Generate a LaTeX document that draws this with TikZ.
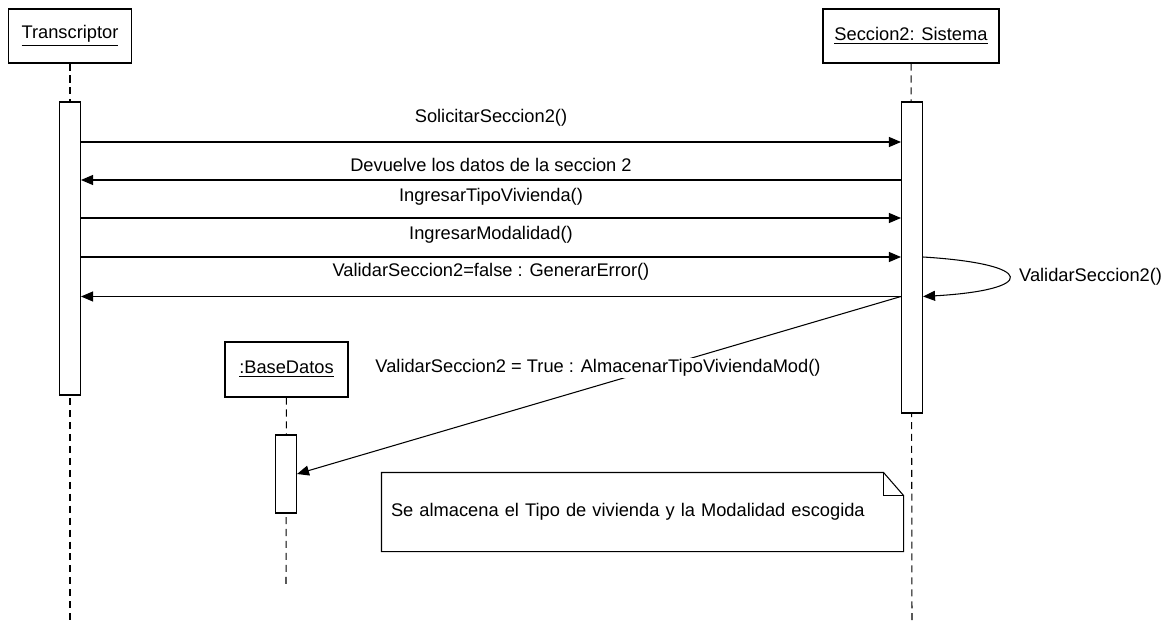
\documentclass[tikz,border=0pt]{standalone}
\usepackage{fontspec}
\setmainfont{Liberation Sans}
\usepackage{tikz}
\usetikzlibrary{positioning, calc}
\usetikzlibrary{arrows.meta}

\begin{document}
\begin{tikzpicture}[>={Triangle[length=2.4mm,width=2mm]},line width=0.6pt,draw=black!100,
	font=\fontsize{10.4}{12}\selectfont]
	\useasboundingbox (0,0) rectangle (23.28,-12.5);
	\def \objht{-0.72cm}
	\tikzstyle{obj-node}=[rectangle,draw=black!100,inner sep=0pt,minimum height=1.08cm]
	\tikzstyle{act-node}=[rectangle,draw=black!100,fill=white,inner sep=0pt,minimum width=0.42cm]
	\tikzstyle{life}=[dash pattern=on 4pt off 2.8pt]
	\tikzstyle{msg}=[->]
	\tikzstyle{lbl}=[fill=white,inner sep=1pt]

	% objects
	\node[obj-node,minimum width=2.46cm] 	(trans)	at (1.40cm,\objht)	{\underline{Transcriptor}};
	\node[obj-node,minimum width=3.52cm] 	(sist)	at (18.22cm,\objht)	{\underline{Seccion2: Sistema}};
	\node[obj-node,minimum width=2.46cm,minimum height=1.10cm] 	(bd)	at (5.73cm,-7.39cm)	{\underline{:BaseDatos}};

	% lifelines
	\coordinate (trans-end)	at (1.40cm,-12.5cm);
	\coordinate (sist-end)	at (18.24cm,-12.5cm);
	\coordinate (bd-end)	at (5.72cm,-11.74cm);
	\draw[life] (trans) -- (trans-end);
	\draw[life] (sist) -- (sist-end);
	\draw[life] (bd) -- (bd-end);

	% activations
	\node[act-node,minimum height=5.86cm]	(act-t)	at (1.40cm,-4.97cm)	{};
	\node[act-node,minimum height=6.22cm]	(act-s)	at (18.24cm,-5.15cm)	{};
	\node[act-node,minimum height=1.56cm]	(act-b)	at (5.72cm,-9.48cm)	{};

	% message rows
	\coordinate (r1) at (0,-2.84cm);
	\coordinate (r2) at (0,-3.60cm);
	\coordinate (r3) at (0,-4.36cm);
	\coordinate (r4) at (0,-5.14cm);
	\coordinate (r5) at (0,-5.93cm);

	\draw[msg] (act-t.east |- r1) -- node[lbl,midway,yshift=0.48cm] {SolicitarSeccion2()} (act-s.west |- r1);
	\draw[msg] (act-s.west |- r2) -- node[lbl,midway,yshift=0.30cm] {Devuelve los datos de la seccion 2} (act-t.east |- r2);
	\draw[msg] (act-t.east |- r3) -- node[lbl,midway,yshift=0.42cm] {IngresarTipoVivienda()} (act-s.west |- r3);
	\draw[msg] (act-t.east |- r4) -- node[lbl,midway,yshift=0.44cm] {IngresarModalidad()} (act-s.west |- r4);
	\draw[msg] (act-s.west |- r5) -- node[lbl,midway,yshift=0.50cm] {ValidarSeccion2=false : GenerarError()} (act-t.east |- r5);

	% self call
	\draw[msg] (act-s.east |- r4) .. controls (20.75cm,-5.28cm) and (20.75cm,-5.80cm) .. node[lbl,pos=0.5,right=0.16cm] {ValidarSeccion2()} (act-s.east |- r5);

	% store
	\draw[msg] (act-s.west |- r5) -- (act-b.east);
	\node[lbl] (store-lbl) at (11.96cm,-7.36cm) {ValidarSeccion2 = True : AlmacenarTipoViviendaMod()};

	% note
	\node[inner xsep=0.18cm,inner ysep=0pt,text width=10.06cm,minimum height=1.56cm,align=left] (note) at (12.85cm,-10.24cm) {Se almacena el Tipo de vivienda y la Modalidad escogida};
	\draw (note.south west) -- (note.north west) -- ([xshift=-0.40cm]note.north east) -- ([yshift=-0.46cm]note.north east) -- (note.south east) -- cycle;
	\draw ([xshift=-0.40cm]note.north east) -- ([xshift=-0.40cm,yshift=-0.46cm]note.north east) -- ([yshift=-0.46cm]note.north east);
\end{tikzpicture}
\end{document}
